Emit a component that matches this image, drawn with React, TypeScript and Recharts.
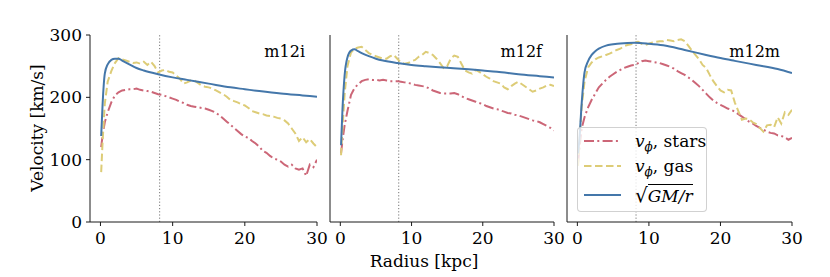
import React from 'react'
import { LineChart, Line, XAxis, YAxis, ReferenceLine, Legend } from 'recharts'

// radius grid (kpc) used by the noisy v_phi profiles
const radiusFine = [
  0.1, 0.3, 0.6, 1, 1.5, 2, 2.5,
  3, 3.5, 4, 4.5, 5, 5.5, 6, 6.5, 7, 7.5,
  8, 8.5, 9, 9.5, 10, 10.5, 11, 11.5, 12, 12.5,
  13, 13.5, 14, 14.5, 15, 15.5, 16, 16.5, 17, 17.5,
  18, 18.5, 19, 19.5, 20, 20.5, 21, 21.5, 22, 22.5,
  23, 23.5, 24, 24.5, 25, 25.5, 26, 26.5, 27, 27.5,
  28, 28.5, 29, 29.5, 30,
]
// radius grid for the smooth sqrt(GM/r) curve
const radiusSmooth = [0.1, 0.3, 0.6, 1, 1.5, 2, 2.5, 3, 4, 5, 6, 8, 10, 12, 15, 18, 20, 22, 25, 28, 30]

const m12iStars = [
  120, 140, 160, 176, 192, 203, 208,
  211, 212, 213, 213, 214, 212, 211, 210, 209, 207,
  205, 204, 202, 200, 198, 196, 193, 191, 188, 186,
  185, 184, 183, 182, 180, 178, 175, 171, 166, 161,
  156, 151, 146, 141, 137, 135, 130, 126, 121, 114,
  111, 106, 102, 100, 97, 92, 89, 92, 86, 84,
  86, 74, 92, 88, 100,
]
const m12iGas = [
  80, 130, 190, 225, 242, 255, 263,
  261, 259, 257, 255, 256, 254, 257, 252, 257, 250,
  240, 243, 244, 241, 240, 235, 230, 222, 224, 227,
  227, 223, 219, 217, 216, 214, 211, 208, 205, 201,
  196, 194, 192, 189, 187, 183, 178, 176, 174, 173,
  171, 170, 169, 167, 166, 163, 158, 150, 142, 130,
  136, 128, 133, 126, 120,
]
const m12iKepler = [138, 190, 238, 253, 260, 262, 262, 259, 253, 247, 243, 237, 232, 228, 222, 216, 213, 210, 206, 203, 201]

const m12fStars = [
  110, 130, 155, 178, 204, 215, 221,
  226, 228, 229, 228, 228, 227, 228, 227, 226, 226,
  226, 225, 224, 223, 222, 220, 219, 218, 217, 214,
  211, 209, 207, 206, 206, 206, 207, 205, 202, 199,
  197, 195, 193, 191, 189, 186, 184, 182, 181, 179,
  177, 175, 174, 172, 171, 169, 167, 165, 163, 162,
  160, 157, 154, 151, 147,
]
const m12fGas = [
  107, 150, 205, 250, 272, 278, 280,
  281, 276, 271, 268, 266, 264, 262, 262, 266, 268,
  262, 256, 254, 255, 258, 260, 265, 268, 273, 271,
  268, 262, 255, 247, 250, 262, 267, 265, 254, 243,
  240, 238, 244, 241, 237, 233, 230, 226, 224, 222,
  216, 213, 218, 222, 225, 221, 217, 213, 209, 211,
  214, 216, 219, 220, 218,
]
const m12fKepler = [123, 180, 235, 264, 275, 277, 274, 271, 266, 262, 259, 255, 252, 250, 247.5, 245, 243, 241, 237, 234, 232]

const m12mStars = [
  95, 120, 150, 168, 184, 196, 206,
  216, 222, 228, 233, 237, 241, 244, 247, 249, 251,
  252, 255, 258, 259, 258, 257, 256, 255, 253, 251,
  249, 246, 242, 239, 236, 232, 228, 223, 218, 212,
  206, 200, 195, 191, 188, 185, 182, 180, 177, 173,
  169, 165, 161, 158, 154, 151, 148, 145, 143, 142,
  139, 138, 136, 132, 135,
]
const m12mGas = [
  90, 130, 185, 225, 248, 256, 261,
  264, 266, 268, 270, 273, 276, 278, 282, 284, 285,
  288, 289, 286, 284, 286, 288, 289, 290, 290, 292,
  291, 290, 292, 293, 290, 283, 275, 268, 261, 252,
  247, 236, 226, 218, 211, 208, 212, 211, 192, 178,
  164, 166, 165, 160, 157, 151, 145, 155, 156, 152,
  168, 158, 176, 172, 180,
]
const m12mKepler = [110, 135, 190, 240, 258, 268, 274, 278, 283, 285, 286.5, 287.5, 286, 283.5, 276, 268, 263, 258.5, 252, 245.5, 239]

const xTicks = [0, 10, 20, 30]
const yTicks = [0, 100, 200, 300]
const solarRadius = 8.2

const RED = '#CC6677'
const YELLOW = '#DDCC77'
const BLUE = '#4477AA'
const INK = '#1a1a1a'
const FONT = 'DejaVu Serif, Liberation Serif, Noto Serif, serif'

const W = 830
const H = 277
const TOP = 35
const BOTTOM = 222

const toPoints = (rs: number[], vs: number[]) => rs.map((r, i) => ({ r, v: vs[i] }))

type PanelDef = {
  name: string
  left: number
  right: number
  stars: number[]
  gas: number[]
  kepler: number[]
}

const panels: PanelDef[] = [
  { name: 'm12i', left: 90, right: 317, stars: m12iStars, gas: m12iGas, kepler: m12iKepler },
  { name: 'm12f', left: 330, right: 554, stars: m12fStars, gas: m12fGas, kepler: m12fKepler },
  { name: 'm12m', left: 567, right: 792, stars: m12mStars, gas: m12mGas, kepler: m12mKepler },
]

const tickStyle = { fontSize: 17, fill: '#000', fontFamily: FONT }

const phi = (
  <>
    <i>v</i>
    <sub style={{ fontSize: 12, fontStyle: 'italic', verticalAlign: '-4px' }}>ϕ</sub>
  </>
)

const legendRows = [
  { color: RED, dash: '10 3.3 2 3.3', label: <>{phi}, stars</>, center: 13 },
  { color: YELLOW, dash: '7.5 3.5', label: <>{phi}, gas</>, center: 38 },
  {
    color: BLUE,
    dash: undefined,
    label: (
      <>
        <span style={{ fontSize: 20 }}>√</span>
        <span style={{ borderTop: '1.3px solid #000', fontStyle: 'italic', paddingTop: 1 }}>GM/r</span>
      </>
    ),
    center: 67,
  },
]

const renderLegend = () => (
  <div
    style={{
      position: 'relative',
      width: 130,
      height: 85,
      boxSizing: 'border-box',
      border: '1px solid rgba(204,204,204,0.9)',
      borderRadius: 4,
      background: 'rgba(255,255,255,0.8)',
      fontFamily: FONT,
      fontSize: 17,
      color: '#000',
    }}
  >
    {legendRows.map((row, i) => (
      <div key={i} style={{ position: 'absolute', left: 0, top: row.center - 14, height: 28, width: 130 }}>
        <svg width={50} height={28} style={{ position: 'absolute', left: 0, top: 0 }}>
          <line x1={6} x2={43} y1={14} y2={14} stroke={row.color} strokeWidth={2} strokeDasharray={row.dash} />
        </svg>
        <span style={{ position: 'absolute', left: 57, top: 2, whiteSpace: 'nowrap', lineHeight: '24px' }}>{row.label}</span>
      </div>
    ))}
  </div>
)

function Panel({ p, index }: { p: PanelDef; index: number }) {
  const first = index === 0
  const last = index === panels.length - 1
  return (
    <div style={{ position: 'absolute', left: 0, top: 0 }}>
      <LineChart
        width={W}
        height={H}
        margin={{ top: TOP, right: W - p.right, bottom: H - BOTTOM - 30, left: p.left - 40 }}
        style={{ fontFamily: FONT }}
      >
        <XAxis
          type="number"
          dataKey="r"
          domain={[-1.45, 30]}
          ticks={xTicks}
          interval={0}
          allowDataOverflow
          height={30}
          tickSize={4}
          tickMargin={6}
          stroke={INK}
          tick={tickStyle}
        />
        <XAxis
          xAxisId="top"
          orientation="top"
          type="number"
          domain={[-1.45, 30]}
          height={0}
          tick={false}
          tickLine={false}
          stroke={INK}
        />
        <YAxis
          type="number"
          domain={[0, 300]}
          ticks={yTicks}
          interval={0}
          width={40}
          tickSize={4}
          tickMargin={4}
          stroke={INK}
          tick={first ? tickStyle : false}
        />
        <YAxis
          yAxisId="right"
          orientation="right"
          type="number"
          domain={[0, 300]}
          width={0}
          tick={false}
          tickLine={false}
          stroke={INK}
        />
        <ReferenceLine x={solarRadius} stroke="#777" strokeWidth={1} strokeDasharray="1.2 2" />
        <Line
          data={toPoints(radiusFine, p.stars)}
          dataKey="v"
          type="linear"
          stroke={RED}
          strokeWidth={2}
          strokeDasharray="10 3.3 2 3.3"
          dot={false}
          activeDot={false}
          isAnimationActive={false}
        />
        <Line
          data={toPoints(radiusFine, p.gas)}
          dataKey="v"
          type="linear"
          stroke={YELLOW}
          strokeWidth={2}
          strokeDasharray="7.5 3.5"
          dot={false}
          activeDot={false}
          isAnimationActive={false}
        />
        <Line
          data={toPoints(radiusSmooth, p.kepler)}
          dataKey="v"
          type="monotone"
          stroke={BLUE}
          strokeWidth={2}
          dot={false}
          activeDot={false}
          isAnimationActive={false}
        />
        {last && (
          <Legend
            layout="horizontal"
            verticalAlign="middle"
            align="center"
            content={renderLegend}
            wrapperStyle={{ left: 577, top: 127, width: 130, height: 85 }}
          />
        )}
      </LineChart>
      <div
        style={{
          position: 'absolute',
          left: p.right - 12 - 80,
          width: 80,
          top: 44,
          textAlign: 'right',
          fontSize: 16,
          lineHeight: 1,
          color: '#000',
        }}
      >
        {p.name}
      </div>
    </div>
  )
}

export default function App() {
  return (
    <div
      style={{
        position: 'absolute',
        left: 0,
        top: 0,
        width: W,
        height: H,
        background: '#fff',
        fontFamily: FONT,
        overflow: 'hidden',
      }}
    >
      {panels.map((p, i) => (
        <Panel key={p.name} p={p} index={i} />
      ))}
      <div
        style={{
          position: 'absolute',
          left: 37,
          top: 128,
          transform: 'translate(-50%, -50%) rotate(-90deg)',
          whiteSpace: 'nowrap',
          fontSize: 17,
          lineHeight: 1,
          color: '#000',
        }}
      >
        Velocity [km/s]
      </div>
      <div
        style={{
          position: 'absolute',
          left: 424,
          top: 261,
          transform: 'translate(-50%, -50%)',
          whiteSpace: 'nowrap',
          fontSize: 17,
          lineHeight: 1,
          color: '#000',
        }}
      >
        Radius [kpc]
      </div>
    </div>
  )
}
